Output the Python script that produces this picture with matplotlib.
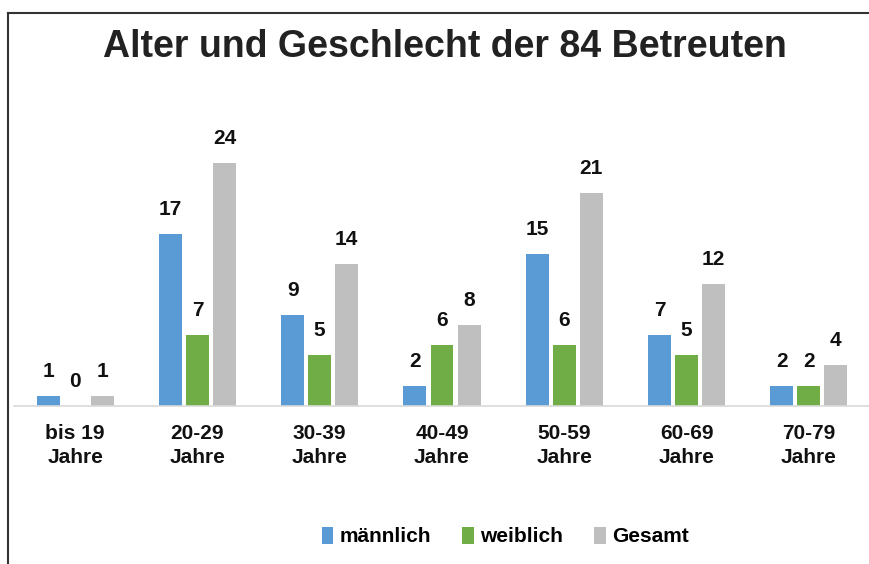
import matplotlib.pyplot as plt
import matplotlib.lines as mlines
import numpy as np

categories = ["bis 19\nJahre", "20-29\nJahre", "30-39\nJahre", "40-49\nJahre",
              "50-59\nJahre", "60-69\nJahre", "70-79\nJahre"]
maennlich = [1, 17, 9, 2, 15, 7, 2]
weiblich = [0, 7, 5, 6, 6, 5, 2]
gesamt = [1, 24, 14, 8, 21, 12, 4]

series = [("männlich", maennlich, "#5B9BD5"),
          ("weiblich", weiblich, "#70AD47"),
          ("Gesamt", gesamt, "#BFBFBF")]

plt.rcParams['font.family'] = ['Liberation Sans', 'DejaVu Sans']
plt.rcParams['font.weight'] = 'bold'

fig = plt.figure(figsize=(8.69, 5.64), dpi=100)
ax = fig.add_axes([14 / 869, 158 / 564, 856 / 869, 304 / 564])

x = np.arange(len(categories))
width = 0.188
step = 0.221

for i, (name, vals, col) in enumerate(series):
    pos = x + (i - 1) * step
    ax.bar(pos, vals, width, color=col, label=name)
    for xp, v in zip(pos, vals):
        ax.text(xp, v + 1.5, str(v), ha='center', va='bottom',
                fontsize=15, fontweight='bold', color='#111111')

ax.set_xlim(-0.5, len(categories) - 0.5)
ax.set_ylim(0, 30)
ax.set_yticks([])
ax.set_xticks(x)
ax.set_xticklabels(categories, fontsize=15, fontweight='bold', linespacing=1.35,
                   color='#111111')
ax.tick_params(axis='x', length=0, pad=13)
for s in ['top', 'right', 'left']:
    ax.spines[s].set_visible(False)
ax.spines['bottom'].set_color('#D9D9D9')
ax.spines['bottom'].set_linewidth(1.2)

fig.text(445 / 869, 1 - 47 / 564, "Alter und Geschlecht der 84 Betreuten",
         ha='center', va='center', fontsize=27, fontweight='bold', color='#222222')

ax.legend(loc='center', bbox_to_anchor=(0.574, -0.43), ncol=3, frameon=False,
          prop={'size': 15, 'weight': 'bold'}, handlelength=0.55, handleheight=0.85,
          handletextpad=0.3, columnspacing=1.5)

# Rahmen
fig.add_artist(mlines.Line2D([8 / 869, 1], [1 - 13 / 564, 1 - 13 / 564], color='#333333', lw=1.5))
fig.add_artist(mlines.Line2D([8 / 869, 8 / 869], [0, 1 - 13 / 564], color='#333333', lw=1.5))

fig.savefig("out.png", dpi=100)
